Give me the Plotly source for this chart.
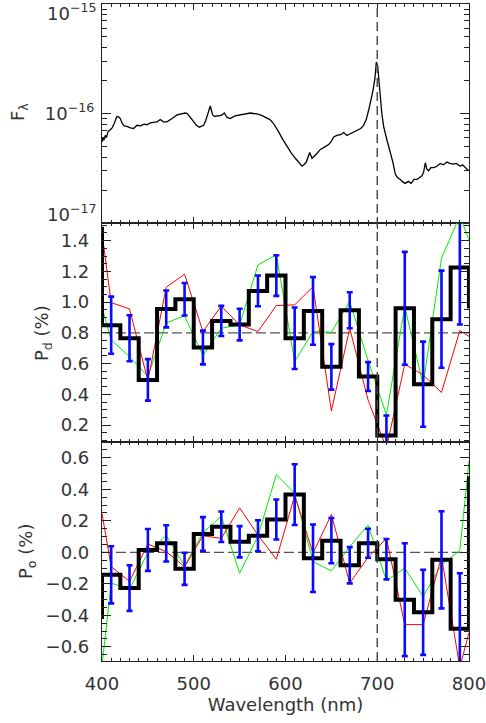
import plotly.graph_objects as go
from plotly.subplots import make_subplots

# ---------------- data ----------------
# top panel: flux spectrum (units of 1e-16)
spec_wl = [400, 401, 402, 403.6, 405, 406.5, 409, 411, 413, 416.3, 418, 420, 422, 424.3, 428, 431, 434.5,
           438, 442, 446, 449, 452.6, 456, 460, 463.5, 467, 470.8, 474, 478, 481.7, 486, 490.8, 493, 496.2,
           500, 503, 506, 508, 510.8, 513, 515.1, 518, 520.6, 523, 525.3, 528, 530.8, 533.3, 536.3, 539.8,
           545, 550.7, 556, 561.6, 565, 568.9, 574, 579.8, 583, 587, 590, 592.5, 597, 601.6, 606, 610.7,
           614, 618, 620, 622.7, 626.3, 628.9, 633, 638, 642, 647, 650, 652.5, 656, 660, 663.4, 667, 670,
           674.2, 678, 682, 685.1, 688, 690.6, 693, 695.4, 697.5, 699, 700.4, 701.8, 703.3, 705, 707, 708.8,
           710.6, 712.5, 714.2, 717, 719.7, 722, 725.1, 727, 730.6, 734, 737, 740, 743.3, 746, 748.7, 750.5,
           752.4, 754, 756, 758.5, 761.4, 765, 768.7, 772, 776, 779, 783.2, 786, 790.5, 793, 796, 799.6]
spec_flux = [0.55, 0.60, 0.57, 0.63, 0.61, 0.68, 0.71, 0.74, 0.80, 0.94, 0.93, 0.90, 0.81, 0.77, 0.76, 0.74, 0.73,
             0.78, 0.77, 0.80, 0.79, 0.82, 0.83, 0.84, 0.88, 0.84, 0.84, 0.87, 0.92, 0.97, 0.99, 1.01, 1.00, 0.93,
             0.84, 0.78, 0.75, 0.76, 0.78, 0.86, 0.97, 1.17, 0.97, 0.94, 0.95, 0.95, 0.97, 1.01, 0.92, 0.90,
             0.95, 0.97, 0.99, 1.01, 1.00, 0.99, 0.96, 0.90, 0.88, 0.81, 0.74, 0.68, 0.58, 0.50, 0.44, 0.39,
             0.36, 0.33, 0.34, 0.36, 0.44, 0.39, 0.42, 0.47, 0.49, 0.52, 0.56, 0.61, 0.63, 0.64, 0.67, 0.63, 0.65,
             0.68, 0.70, 0.73, 0.78, 0.88, 1.07, 1.30, 1.63, 2.10, 2.95, 2.75, 2.00, 1.42, 1.00, 0.76, 0.64,
             0.57, 0.50, 0.45, 0.36, 0.28, 0.26, 0.25, 0.24, 0.23, 0.24, 0.23, 0.25, 0.25, 0.26, 0.27, 0.29,
             0.355, 0.31, 0.30, 0.32, 0.32, 0.33, 0.35, 0.34, 0.36, 0.35, 0.345, 0.35, 0.33, 0.34, 0.32, 0.30]

# bins (20 nm) for polarization
bin_edges = [400 + 20 * i for i in range(21)]
bin_centers = [410 + 20 * i for i in range(20)]
line_x = [400] + bin_centers + [800]

pd_bins = [0.85, 0.765, 0.494, 0.956, 1.019, 0.705, 0.878, 0.854, 1.073, 1.173,
           0.765, 0.943, 0.579, 0.947, 0.516, 0.132, 0.96, 0.466, 0.889, 1.225]
pd_ends = [1.49, 0.96]
pd_err = [0.186, 0.15, 0.135, 0.12, 0.106, 0.11, 0.098, 0.103, 0.10, 0.132,
          0.2, 0.22, 0.148, 0.117, 0.094, 0.13, 0.367, 0.277, 0.316, 0.37]
pd_red = [1.45, 0.997, 0.956, 0.49, 1.097, 1.182, 0.809, 0.974, 0.852, 0.809, 0.978,
          0.982, 1.101, 0.292, 0.83, 0.364, 0.05, 0.596, 0.527, 0.412, 0.815, 0.777]
pd_green = [0.965, 0.754, 0.646, 0.516, 0.865, 0.911, 0.652, 0.83, 0.852, 1.243, 1.308,
            0.613, 0.809, 0.804, 1.004, 0.62, 0.266, 0.971, 0.462, 1.286, 1.56, 1.405]

po_bins = [-0.143, -0.227, 0.015, 0.057, -0.105, 0.116, 0.162, 0.067, 0.105, 0.208,
           0.366, -0.038, 0.074, -0.082, 0.057, -0.044, -0.301, -0.381, -0.048, -0.486]
po_ends = [-0.423, 0.482]
po_err = [0.181, 0.145, 0.133, 0.115, 0.102, 0.107, 0.097, 0.099, 0.098, 0.127,
          0.193, 0.214, 0.144, 0.115, 0.092, 0.128, 0.358, 0.27, 0.308, 0.353]
po_red = [0.246, -0.091, -0.185, 0.053, 0.004, -0.091, 0.105, 0.088, 0.282, 0.109, -0.044,
          0.36, -0.006, 0.24, -0.196, -0.032, 0.088, -0.459, -0.459, -0.027, -0.73, -0.51]
po_green = [-0.72, -0.196, -0.234, -0.002, 0.107, -0.086, 0.124, 0.229, -0.133, 0.103, 0.493,
            0.375, -0.059, -0.118, 0.036, 0.173, -0.179, -0.101, -0.28, -0.08, 0.011, 0.58]

x_ticks = [400, 500, 600, 700, 800]
pd_ticks = [0.2, 0.4, 0.6, 0.8, 1.0, 1.2, 1.4]
po_ticks = [-0.6, -0.4, -0.2, 0.0, 0.2, 0.4, 0.6]
flux_ticks = [1e-17, 1e-16, 1e-15]
flux_ticktext = ["10<sup>\u221217</sup>", "10<sup>\u221216</sup>", "10<sup>\u221215</sup>"]


def step_xy(edges, vals, ends):
    xs, ys = [edges[0]], [ends[0]]
    for i, v in enumerate(vals):
        xs += [edges[i], edges[i + 1]]
        ys += [v, v]
    xs.append(edges[-1])
    ys.append(ends[1])
    return xs, ys


FONT = "DejaVu Sans"
TXT = "#333333"
AX = "#222222"

fig = make_subplots(rows=3, cols=1, shared_xaxes=True, vertical_spacing=0)

fig.add_trace(go.Scatter(x=spec_wl, y=[f * 1e-16 for f in spec_flux], mode="lines",
                         line=dict(color="black", width=1.3), showlegend=False), row=1, col=1)

for row, red, green, bins, ends, err in [(2, pd_red, pd_green, pd_bins, pd_ends, pd_err),
                                          (3, po_red, po_green, po_bins, po_ends, po_err)]:
    fig.add_trace(go.Scatter(x=line_x, y=green, mode="lines", line=dict(color="#00ee00", width=1),
                             showlegend=False), row=row, col=1)
    fig.add_trace(go.Scatter(x=line_x, y=red, mode="lines", line=dict(color="#ff0000", width=1),
                             showlegend=False), row=row, col=1)
    sx, sy = step_xy(bin_edges, bins, ends)
    fig.add_trace(go.Scatter(x=sx, y=sy, mode="lines", line=dict(color="black", width=4),
                             showlegend=False), row=row, col=1)
    fig.add_trace(go.Scatter(x=bin_centers, y=bins, mode="markers",
                             marker=dict(size=1, color="rgba(0,0,0,0)"),
                             error_y=dict(type="data", array=err, color="#0a0aff", thickness=2.6, width=3),
                             showlegend=False), row=row, col=1)

axis_common = dict(showline=True, linecolor=AX, linewidth=1.2, mirror="ticks", automargin=False,
                   ticks="inside", showgrid=False, zeroline=False, ticklabeloverflow="allow",
                   tickfont=dict(family=FONT, size=18, color=TXT), tickcolor=AX)

for i in (1, 2, 3):
    fig.update_xaxes(range=[400, 800], tickvals=x_ticks, ticklen=6, tickwidth=1.4,
                     minor=dict(ticks="inside", dtick=10, tick0=400, ticklen=3, tickwidth=1.2, tickcolor=AX),
                     showticklabels=(i == 3), row=i, col=1, **axis_common)

fig.update_xaxes(title=dict(text="Wavelength (nm)", font=dict(family=FONT, size=18, color=TXT), standoff=4),
                 ticklabelstandoff=6, row=3, col=1)

# end labels of the log axis are drawn as annotations (nudged inward as in the original)
minor_log = [k * 10.0 ** e for e in (-17, -16) for k in range(2, 10)]
fig.update_yaxes(type="log", range=[-17, -15], tickvals=flux_ticks,
                 ticktext=["", flux_ticktext[1], ""],
                 ticklen=9, tickwidth=1.4, ticklabelstandoff=3,
                 minor=dict(ticks="inside", tickmode="array", tickvals=minor_log, ticklen=5, tickwidth=1.2,
                            tickcolor=AX),
                 row=1, col=1, **axis_common)
fig.update_yaxes(range=[0.09, 1.515], tickvals=pd_ticks, tickformat=".1f", ticklen=9, tickwidth=1.4,
                 ticklabelstandoff=8,
                 minor=dict(ticks="inside", dtick=0.05, tick0=0, ticklen=5, tickwidth=1.2, tickcolor=AX),
                 row=2, col=1, **axis_common)
fig.update_yaxes(range=[-0.69, 0.70], tickvals=po_ticks, tickformat=".1f", ticklen=9, tickwidth=1.4,
                 ticklabelstandoff=8,
                 minor=dict(ticks="inside", dtick=0.05, tick0=0, ticklen=5, tickwidth=1.2, tickcolor=AX),
                 row=3, col=1, **axis_common)

# dashed reference lines
fig.add_shape(type="line", xref="x3", yref="paper", x0=700, x1=700, y0=0, y1=1,
              line=dict(color="#444444", width=1.4, dash="9px,5px"), layer="above")
fig.add_shape(type="line", xref="x2", yref="y2", x0=400, x1=800, y0=0.8, y1=0.8,
              line=dict(color="#555555", width=1.3, dash="10px,4px"), layer="below")
fig.add_shape(type="line", xref="x3", yref="y3", x0=400, x1=800, y0=0.0, y1=0.0,
              line=dict(color="#555555", width=1.3, dash="10px,4px"), layer="below")

# pixel helpers for annotations
W_PLOT = 486 - 102 - 17
H_PLOT = 723 - 4 - 62


def px_x(px):
    return (px - 102) / W_PLOT


def px_y(py):
    return 1 - (py - 4) / H_PLOT


# log-axis end labels
for text, yp in [(flux_ticktext[2], 12), (flux_ticktext[0], 213)]:
    fig.add_annotation(text=text, xref="paper", yref="paper", x=px_x(98), y=px_y(yp),
                       showarrow=False, xanchor="right", yanchor="middle",
                       font=dict(family=FONT, size=18, color=TXT))

# y axis titles
for text, xp, yp in [("F<sub>\u03bb</sub>", 19, 112), ("P<sub>d</sub> (%)", 43, 333),
                     ("P<sub>o</sub> (%)", 27, 552)]:
    fig.add_annotation(text=text, xref="paper", yref="paper", x=px_x(xp), y=px_y(yp),
                       showarrow=False, textangle=-90, xanchor="center", yanchor="middle",
                       font=dict(family=FONT, size=18, color=TXT))

fig.update_layout(width=486, height=723, margin=dict(l=102, r=17, t=4, b=62),
                  plot_bgcolor="white", paper_bgcolor="white", showlegend=False)

fig.write_html("out.html")
